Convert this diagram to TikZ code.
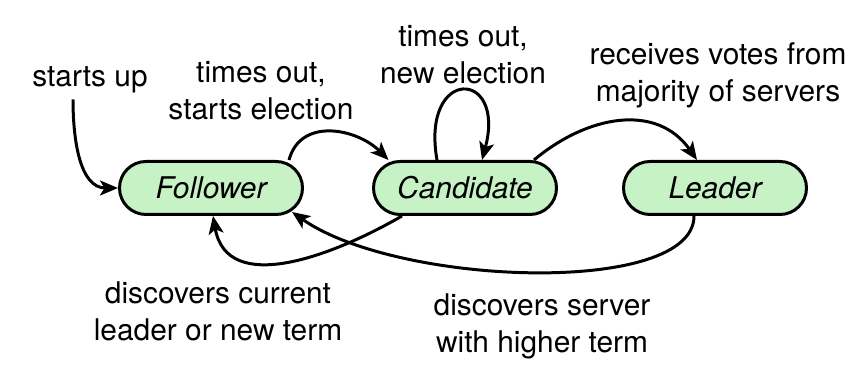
\documentclass[tikz,border=0pt]{standalone}
\usepackage{fontspec}
\setmainfont{TeX Gyre Heros}
\usetikzlibrary{arrows.meta}
\definecolor{stategreen}{RGB}{198,242,198}

\begin{document}
\begin{tikzpicture}[
		state/.style={draw, line width=1.7pt, fill=stategreen, rounded corners=0.53cm,
			minimum width=3.66cm, minimum height=1.06cm, font=\fontsize{17}{21}\selectfont\itshape},
		lbl/.style={align=center, font=\fontsize{17}{21}\selectfont},
		trans/.style={-{Stealth[length=0.36cm,width=0.3cm,inset=0.09cm]}, line width=1.7pt}
	]
		\useasboundingbox (0,0) rectangle (17.3,7.72);
		
		% States
		\node[state] (follower) at (4.22,3.96) {Follower};
		\node[state] (candidate) at (9.30,3.96) {Candidate};
		\node[state] (leader) at (14.30,3.96) {Leader};
		
		% Labels
		\node[lbl] (startsup) at (1.80,6.12) {starts up};
		\node[lbl] (timeout) at (5.22,5.91) {times out,\\starts election};
		\node[lbl] (newelect) at (9.26,6.62) {times out,\\new election};
		\node[lbl] (votes) at (14.36,6.21) {receives votes from\\majority of servers};
		\node[lbl] (curleader) at (4.36,1.49) {discovers current\\leader or new term};
		\node[lbl] (higher) at (10.84,1.20) {discovers server\\with higher term};
		
		% Transitions
		\draw[trans] ([xshift=-0.34cm]startsup.south) to[out=-90,in=180] (follower.west);
		\draw[trans] ([xshift=-0.3cm]follower.north east) to[out=75,in=135,looseness=1.15] ([xshift=0.33cm]candidate.north west);
		\draw[trans] ([xshift=-0.56cm]candidate.north) to[out=100,in=75,distance=1.9cm] ([xshift=0.34cm]candidate.north);
		\draw[trans] ([xshift=-0.48cm]candidate.north east) to[out=40,in=125,looseness=1.1] ([xshift=-0.36cm]leader.north);
		\draw[trans] ([xshift=0.6cm]candidate.south west) to[out=-150,in=-80,looseness=1.1] ([xshift=0.04cm]follower.south);
		\draw[trans] ([xshift=-0.42cm]leader.south) to[out=-90,in=-35,out distance=1.6cm,in distance=2.6cm] ([xshift=-0.24cm,yshift=0.08cm]follower.south east);
	\end{tikzpicture}
\end{document}
